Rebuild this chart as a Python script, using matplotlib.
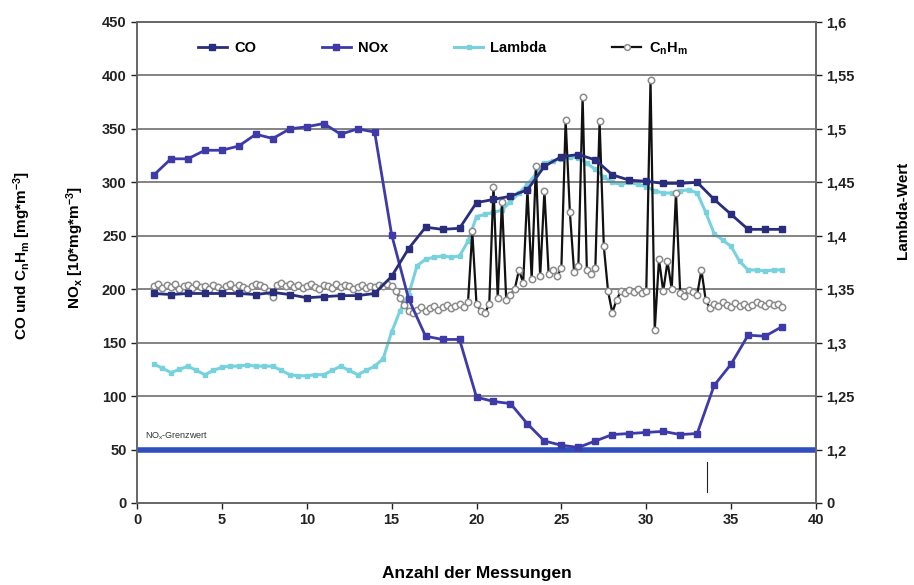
import numpy as np
import matplotlib
matplotlib.use("Agg")
import matplotlib.pyplot as plt
from matplotlib.ticker import FixedLocator, FixedFormatter

plt.rcParams['font.family'] = ['Liberation Sans', 'DejaVu Sans']
plt.rcParams['font.weight'] = 'bold'
plt.rcParams['mathtext.default'] = 'regular'

# --- measurement data -------------------------------------------------------
messung = np.arange(1, 39)

co = [196, 195, 196, 196, 196, 196, 195, 197, 195, 192, 193, 194, 194, 196,
      212, 238, 258, 256, 257, 281, 284, 287, 293, 315, 324, 326, 321, 307,
      302, 301, 299, 299, 300, 284, 270, 256, 256, 256]

nox = [307, 322, 322, 330, 330, 334, 345, 341, 350, 352, 355, 345, 350, 347,
       251, 191, 156, 153, 153, 99, 95, 93, 74, 58, 54, 52, 58, 64,
       65, 66, 67, 64, 65, 110, 130, 157, 156, 165]

# lambda and hydrocarbons were logged at a finer interval
lambda_x = np.arange(1, 38.01, 0.5)
lambda_wert = [1.280, 1.276, 1.272, 1.275, 1.278, 1.274, 1.270, 1.274, 1.277, 1.278,
               1.278, 1.279, 1.278, 1.278, 1.278, 1.274, 1.270, 1.269, 1.269, 1.270,
               1.270, 1.274, 1.278, 1.274, 1.270, 1.274, 1.278, 1.285, 1.310, 1.330,
               1.345, 1.372, 1.378, 1.380, 1.381, 1.380, 1.381, 1.395, 1.418, 1.420,
               1.422, 1.424, 1.432, 1.440, 1.448, 1.458, 1.468, 1.470, 1.472, 1.474,
               1.473, 1.468, 1.462, 1.455, 1.450, 1.448, 1.450, 1.448, 1.446, 1.442,
               1.440, 1.440, 1.442, 1.443, 1.440, 1.422, 1.402, 1.396, 1.390, 1.376,
               1.368, 1.368, 1.367, 1.368, 1.368]

cnhm_x = np.arange(1, 38.01, 0.25)
cnhm = [203, 205, 201, 204, 202, 205, 200, 203,
        204, 201, 205, 202, 203, 200, 204, 202,
        199, 203, 205, 201, 204, 202, 200, 203,
        205, 204, 202, 198, 193, 204, 206, 203,
        205, 202, 204, 201, 203, 205, 202, 200,
        204, 203, 201, 205, 202, 204, 203, 200,
        202, 204, 201, 203, 202, 204, 203, 205,
        203,
        198, 192, 185, 180, 178, 181, 183, 180, 182, 184, 181, 183,
        185, 182, 184, 186, 183, 188,
        254, 186, 180, 178, 186, 296, 192, 282, 190, 195, 200, 218,
        206, 293, 210, 315, 212, 292,
        214, 218, 212, 220, 358, 272, 216, 222, 380, 218, 214, 220,
        357, 240, 198, 178,
        190, 198, 196, 199, 197, 200, 196, 198, 396, 162, 228, 198,
        226, 200, 290, 196, 194, 199, 197, 195,
        218, 190, 182, 186, 184, 188, 185, 183, 187, 184, 186, 183,
        185, 188, 186, 184, 187, 185, 186, 183]

nox_grenzwert = 50
x_ticks = np.arange(0, 41, 5)
y_ticks = np.arange(0, 451, 50)
lambda_ticks = [1.15, 1.20, 1.25, 1.30, 1.35, 1.40, 1.45, 1.50, 1.55, 1.60]
lambda_labels = ['0', '1,2', '1,25', '1,3', '1,35', '1,4', '1,45', '1,5', '1,55', '1,6']
strich_x = 33.6
strich_y = (10, 38)

# --- figure -------------------------------------------------------------------
fig = plt.figure(figsize=(9.14, 5.85), dpi=100)
ax = fig.add_axes([0.1499, 0.1402, 0.7429, 0.8222])
ax2 = ax.twinx()
ax2.set_zorder(ax.get_zorder() - 1)
ax.patch.set_visible(False)
ax2.patch.set_facecolor('white')

c_co = '#2a2d7c'
c_nox = '#3e3aa8'
c_lambda = '#78d2de'
c_grenz = '#2f4fbf'

ax.set_xlim(0, 40)
ax.set_ylim(0, 450)
ax2.set_ylim(1.15, 1.60)

for y in y_ticks[1:]:
    ax.axhline(y, color='#7a7a7a', lw=1.3, zorder=1)

ax.axhline(nox_grenzwert, color=c_grenz, lw=4, zorder=2)
ax.text(0.5, nox_grenzwert + 12, 'NO$_x$-Grenzwert', fontsize=6.5,
        fontweight='normal', color='#333333', va='center', ha='left')
ax.plot([strich_x, strich_x], strich_y, color='#222222', lw=0.8, zorder=2)

l_lam, = ax2.plot(lambda_x, lambda_wert, color=c_lambda, lw=2.2, marker='s',
                  ms=3.5, mec=c_lambda, mfc=c_lambda, label='Lambda')

l_hc, = ax.plot(cnhm_x, cnhm, color='#111111', lw=1.6, marker='o', ms=4.6,
                mfc='white', mec='#8c8c8c', mew=1.1, zorder=3,
                label='C$_n$H$_m$')
l_nox, = ax.plot(messung, nox, color=c_nox, lw=2, marker='s', ms=5,
                 mec=c_nox, mfc=c_nox, zorder=4, label='NOx')
l_co, = ax.plot(messung, co, color=c_co, lw=2, marker='s', ms=5,
                mec=c_co, mfc=c_co, zorder=4, label='CO')

ax.xaxis.set_major_locator(FixedLocator(x_ticks))
ax.yaxis.set_major_locator(FixedLocator(y_ticks))
ax2.yaxis.set_major_locator(FixedLocator(lambda_ticks))
ax2.yaxis.set_major_formatter(FixedFormatter(lambda_labels))

for a in (ax, ax2):
    a.tick_params(labelsize=10.5, colors='#222222', length=4, width=1,
                  direction='out')
    for s in a.spines.values():
        s.set_color('#666666')
        s.set_linewidth(1.2)
for lbl in ax.get_xticklabels() + ax.get_yticklabels() + ax2.get_yticklabels():
    lbl.set_fontweight('bold')

ax.set_xlabel('Anzahl der Messungen', fontsize=12.5, fontweight='bold',
              labelpad=28)
ax.text(-0.169, 0.515, 'CO und C$_n$H$_m$ [mg*m$^{-3}$]', transform=ax.transAxes,
        rotation=90, ha='center', va='center', fontsize=11, fontweight='bold')
ax.text(-0.091, 0.532, 'NO$_x$ [10*mg*m$^{-3}$]', transform=ax.transAxes,
        rotation=90, ha='center', va='center', fontsize=11, fontweight='bold')
ax.text(1.128, 0.609, 'Lambda-Wert', transform=ax.transAxes,
        rotation=90, ha='center', va='center', fontsize=11, fontweight='bold')

leg = ax.legend(handles=[l_co, l_nox, l_lam, l_hc], loc='center',
                bbox_to_anchor=(0.45, 0.945), ncol=4, frameon=False,
                prop={'size': 10.5, 'weight': 'bold'}, handlelength=2.0,
                columnspacing=4.5, handletextpad=0.5, markerscale=0.9)

fig.savefig('out.png', dpi=100, facecolor='white')
